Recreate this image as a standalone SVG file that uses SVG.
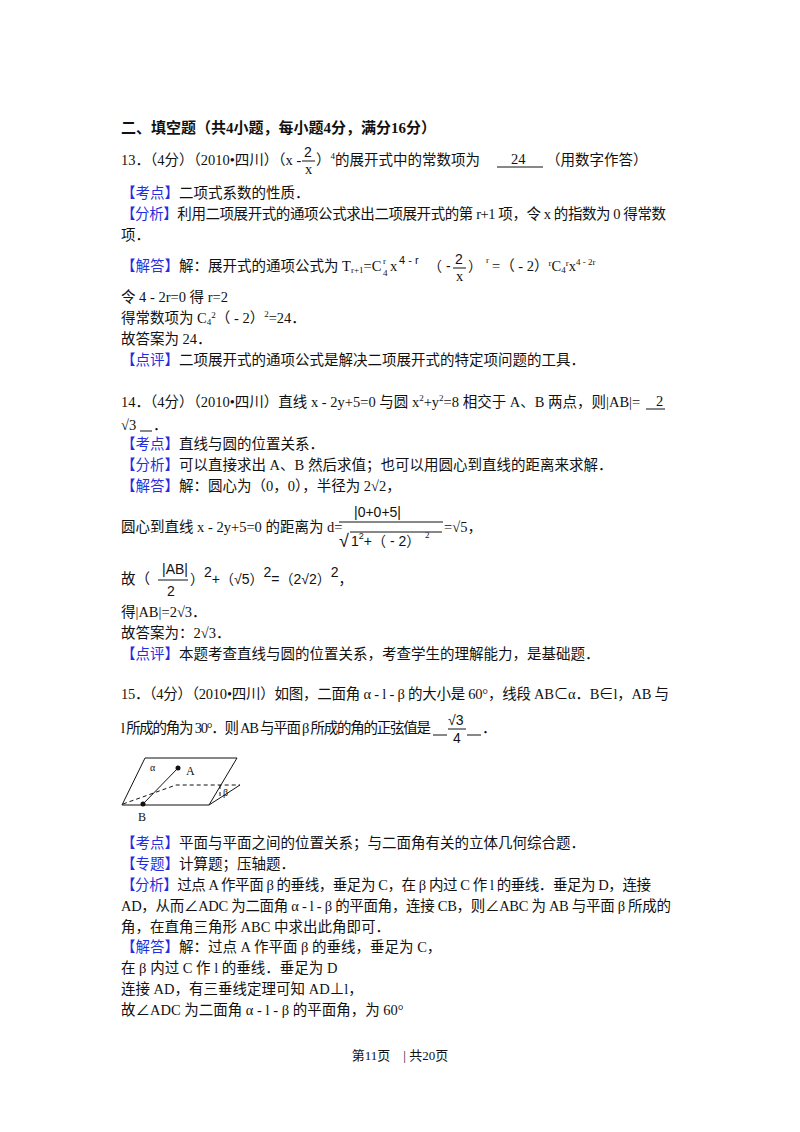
<svg xmlns="http://www.w3.org/2000/svg" width="800" height="1132" viewBox="0 0 800 1132">
<style>
text{font-family:"Liberation Serif","Noto Sans CJK SC",serif;font-size:14.5px;fill:#111}
.b{font-weight:bold;font-size:15px}
.k{fill:#1f2fe0}
.s{font-size:9px}
.m{font-family:"Liberation Sans","Noto Sans CJK SC",sans-serif;font-size:14px}
.ln{stroke:#111;stroke-width:1;fill:none}
.d{stroke:#111;stroke-width:1;fill:none;stroke-dasharray:4 3}
</style>
<rect width="800" height="1132" fill="#fff"/>
<g id="title"><text x="121" y="133" class="b">二、填空题（共4小题，每小题4分，满分16分）</text></g>

<g id="q13">
<text x="121" y="165">13．（4分）（2010•四川）（x -</text>
<text x="304" y="157" class="m">2</text><line class="ln" x1="302" y1="161" x2="315" y2="161"/><text x="305" y="174">x</text>
<text x="316" y="165">）<tspan dy="-6" class="s">4</tspan><tspan dy="6">的展开式中的常数项为</tspan></text>
<text x="511" y="164">24</text><line class="ln" x1="497" y1="167" x2="543" y2="167"/>
<text x="546" y="165">（用数字作答）</text>
<text x="121" y="198"><tspan class="k">【考点】</tspan>二项式系数的性质．</text>
<text x="121" y="219" textLength="545"><tspan class="k">【分析】</tspan>利用二项展开式的通项公式求出二项展开式的第 r+1 项，令 x 的指数为 0 得常数</text>
<text x="121" y="240">项．</text>
<text x="121" y="271"><tspan class="k">【解答】</tspan>解：展开式的通项公式为 T<tspan class="s" dy="2">r+1</tspan><tspan dy="-2">=C</tspan></text>
<text x="383" y="264" class="s">r</text><text x="383" y="276" class="s">4</text>
<text x="390" y="271">x</text><text x="399" y="264" class="m" style="font-size:11px">4 - r</text>
<text x="428" y="271" class="m">（ -</text>
<text x="455" y="264" class="m">2</text><line class="ln" x1="453" y1="268" x2="466" y2="268"/><text x="456" y="281">x</text>
<text x="468" y="271" class="m">）</text><text x="486" y="263" class="s">r</text>
<text x="492" y="271">=（ - 2）<tspan class="s" dy="-5">r</tspan><tspan dy="5">C</tspan><tspan class="s" dy="2">4</tspan><tspan class="s" dy="-7">r</tspan><tspan dy="5">x</tspan><tspan class="s" dy="-6">4 - 2r</tspan></text>
<text x="121" y="302">令 4 - 2r=0 得 r=2</text>
<text x="121" y="323">得常数项为 C<tspan class="s" dy="2">4</tspan><tspan class="s" dy="-7">2</tspan><tspan dy="5">（ - 2）</tspan><tspan class="s" dy="-6">2</tspan><tspan dy="6">=24．</tspan></text>
<text x="121" y="344">故答案为 24．</text>
<text x="121" y="365"><tspan class="k">【点评】</tspan>二项展开式的通项公式是解决二项展开式的特定项问题的工具．</text>
</g>

<g id="q14">
<text x="121" y="407">14．（4分）（2010•四川）直线 x - 2y+5=0 与圆 x<tspan class="s" dy="-6">2</tspan><tspan dy="6">+y</tspan><tspan class="s" dy="-6">2</tspan><tspan dy="6">=8 相交于 A、B 两点，则|AB|=</tspan></text>
<text x="656" y="406">2</text><line class="ln" x1="646" y1="409" x2="665" y2="409"/>
<text x="121" y="430">√3</text><line class="ln" x1="140" y1="431" x2="152" y2="431"/><text x="153" y="430">．</text>
<text x="121" y="449"><tspan class="k">【考点】</tspan>直线与圆的位置关系．</text>
<text x="121" y="470"><tspan class="k">【分析】</tspan>可以直接求出 A、B 然后求值；也可以用圆心到直线的距离来求解．</text>
<text x="121" y="491"><tspan class="k">【解答】</tspan>解：圆心为（0，0），半径为 2√2，</text>
<text x="121" y="532">圆心到直线 x - 2y+5=0 的距离为 d=</text>
<text x="354" y="517" class="m">|0+0+5|</text>
<line class="ln" x1="339" y1="522" x2="443" y2="522"/>
<text x="339" y="547" class="m" style="font-size:18px">√</text><line class="ln" x1="350" y1="532" x2="442" y2="532"/>
<text x="351" y="546" class="m">1<tspan class="s" dy="-7">2</tspan><tspan dy="7">+（ - 2）</tspan></text><text x="425" y="538" class="s">2</text>
<text x="444" y="532">=√5，</text>
<text x="121" y="584">故（</text>
<text x="162" y="574" class="m">|AB|</text><line class="ln" x1="158" y1="580" x2="188" y2="580"/><text x="167" y="596" class="m">2</text>
<text x="190" y="584" class="m">）<tspan dy="-7">2</tspan><tspan dy="7">+（√5）</tspan><tspan dy="-7">2</tspan><tspan dy="7">=（2√2）</tspan><tspan dy="-7">2</tspan><tspan dy="7">，</tspan></text>
<text x="121" y="617">得|AB|=2√3．</text>
<text x="121" y="638">故答案为：2√3．</text>
<text x="121" y="659"><tspan class="k">【点评】</tspan>本题考查直线与圆的位置关系，考查学生的理解能力，是基础题．</text>
</g>

<g id="q15">
<text x="121" y="699" textLength="548">15．（4分）（2010•四川）如图，二面角 α - l - β 的大小是 60°，线段 AB⊂α．B∈l，AB 与</text>
<text x="121" y="733" textLength="310">l 所成的角为 30°．则 AB 与平面 β 所成的角的正弦值是</text>
<line class="ln" x1="433" y1="735" x2="447" y2="735"/>
<text x="448" y="725" class="m">√3</text><line class="ln" x1="448" y1="729" x2="466" y2="729"/><text x="453" y="743" class="m">4</text>
<line class="ln" x1="467" y1="735" x2="481" y2="735"/><text x="482" y="733">．</text>
</g>

<g id="figure">
<polygon class="ln" points="145,758 237,758 209,805 122,805"/>
<path class="d" d="M123,804 L176,785 L240,785"/>
<line class="ln" x1="209" y1="805" x2="240" y2="785"/>
<line class="d" x1="220" y1="785" x2="220" y2="797"/>
<line class="ln" x1="143" y1="804" x2="178" y2="768"/>
<circle cx="178" cy="768" r="2.5" fill="#111"/><circle cx="143" cy="804" r="2.5" fill="#111"/>
<text x="150" y="771" style="font-size:10px">α</text>
<text x="186" y="775" style="font-size:12px">A</text>
<text x="223" y="796" style="font-size:10px">β</text>
<text x="138" y="821" style="font-size:12px">B</text>
</g>

<g id="q15sol">
<text x="121" y="848"><tspan class="k">【考点】</tspan>平面与平面之间的位置关系；与二面角有关的立体几何综合题．</text>
<text x="121" y="869"><tspan class="k">【专题】</tspan>计算题；压轴题．</text>
<text x="121" y="890" textLength="530"><tspan class="k">【分析】</tspan>过点 A 作平面 β 的垂线，垂足为 C，在 β 内过 C 作 l 的垂线．垂足为 D，连接</text>
<text x="121" y="911" textLength="550">AD，从而∠ADC 为二面角 α - l - β 的平面角，连接 CB，则∠ABC 为 AB 与平面 β 所成的</text>
<text x="121" y="932">角，在直角三角形 ABC 中求出此角即可．</text>
<text x="121" y="952"><tspan class="k">【解答】</tspan>解：过点 A 作平面 β 的垂线，垂足为 C，</text>
<text x="121" y="973">在 β 内过 C 作 l 的垂线．垂足为 D</text>
<text x="121" y="994">连接 AD，有三垂线定理可知 AD⊥l，</text>
<text x="121" y="1015">故∠ADC 为二面角 α - l - β 的平面角，为 60°</text>
</g>

<g id="footer"><text x="400" y="1060" text-anchor="middle" style="font-size:13px">第11页　| 共20页</text></g>
</svg>
